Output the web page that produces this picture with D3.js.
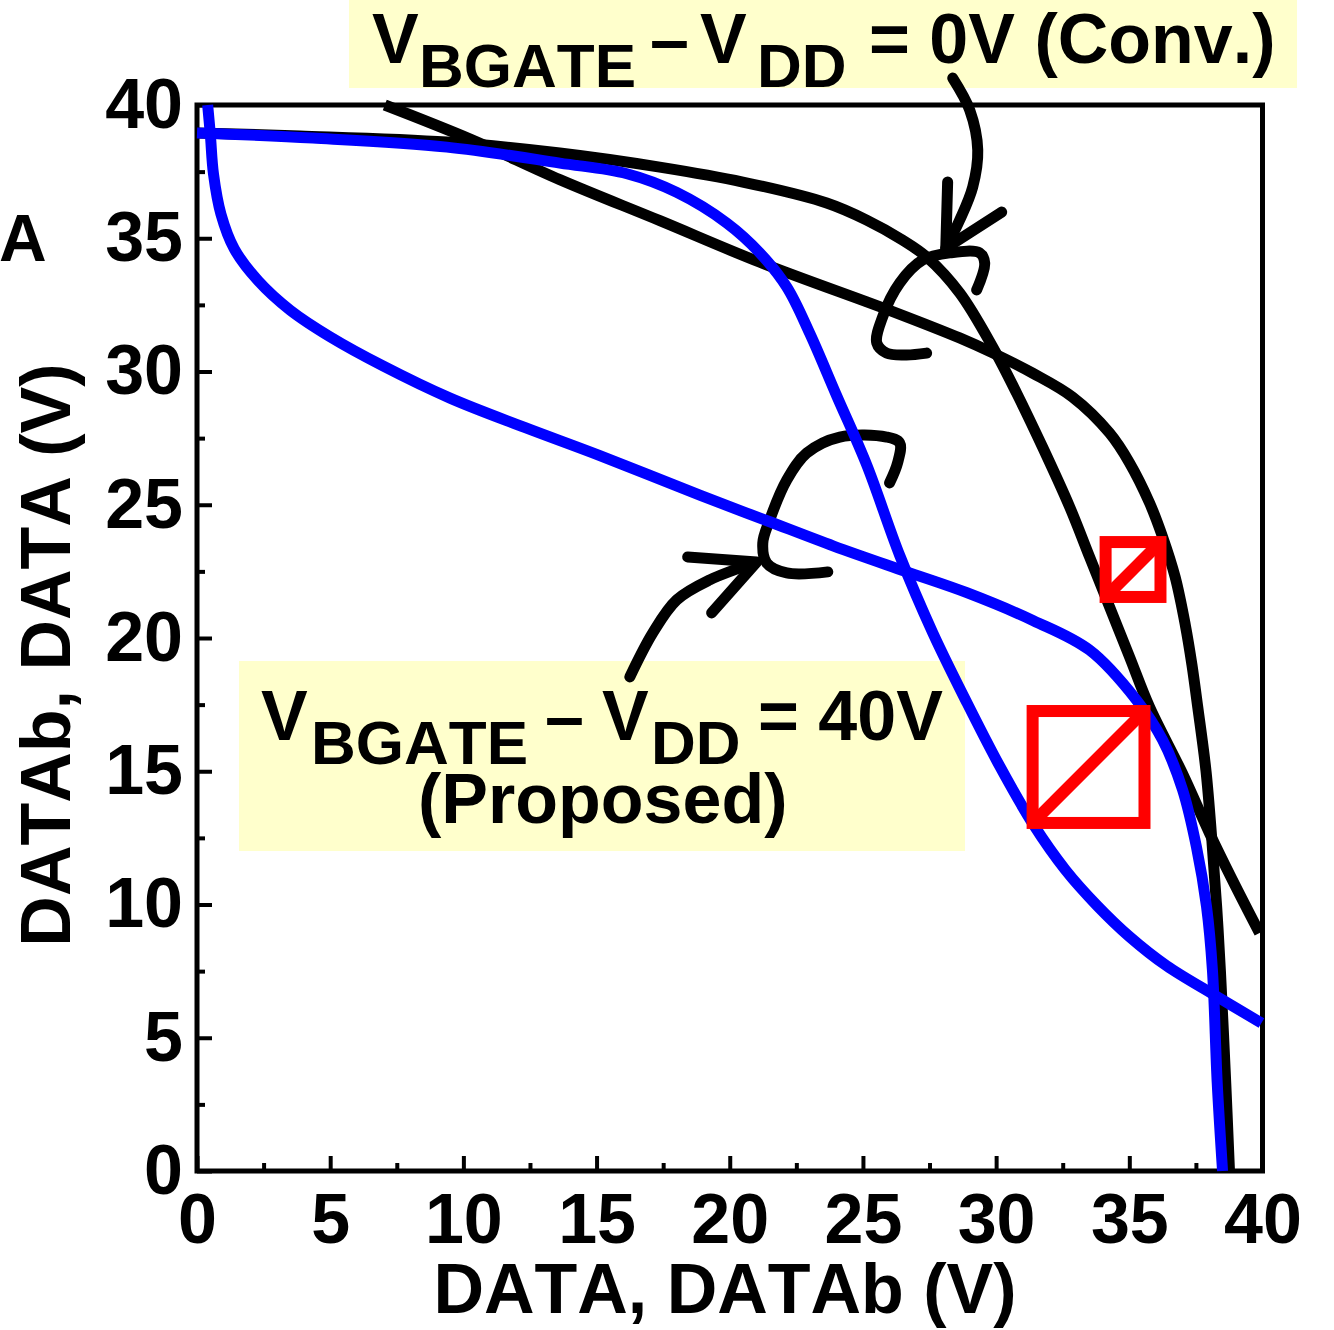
<!DOCTYPE html>
<html><head><meta charset="utf-8">
<script src="https://cdn.jsdelivr.net/npm/d3@7"></script>
<style>
html,body{margin:0;padding:0;background:#fff;overflow:hidden;}
svg{display:block;}
text{font-family:"Liberation Sans",Arial,Helvetica,sans-serif;font-weight:bold;fill:#000;font-kerning:none;}
</style></head><body>
<svg id="chart" width="1334" height="1330"></svg>
<script>
// ---------- data ----------
const xTickValues = [0, 5, 10, 15, 20, 25, 30, 35, 40];
const yTickValues = [0, 5, 10, 15, 20, 25, 30, 35, 40];
const minorTickValues = [2.5, 7.5, 12.5, 17.5, 22.5, 27.5, 32.5, 37.5];
const xTitle = "DATA, DATAb (V)";
const yTitle = "DATAb, DATA (V)";
const panelLabel = "A";

// Conventional cell, VBGATE - VDD = 0V (black butterfly)
const convCurveA = [[7.05,40.0],[10.3,38.7],[13.62,37.2],[17.4,35.65],[21.13,34.1],[26.12,32.25],[28.63,31.26],[29.87,30.7],[31.37,29.94],[32.87,29.04],[34.26,27.69],[35.01,26.57],[35.76,25.07],[36.25,23.79],[36.72,22.29],[37.1,20.5],[37.35,19.0],[37.57,17.4],[37.88,15.0],[38.1,12.4],[38.28,9.9],[38.42,7.5],[38.62,3.3],[38.76,0.0]];
const convCurveB = [[0,38.95],[3.86,38.84],[9.38,38.61],[13.62,38.2],[17.37,37.67],[20.49,37.11],[23.64,36.32],[25.14,35.68],[26.49,34.93],[27.39,34.3],[28.63,32.95],[29.87,30.92],[30.77,29.19],[31.74,27.17],[32.76,24.92],[33.51,23.04],[34.26,21.16],[35.01,19.29],[35.76,17.41],[36.99,14.93],[38.01,12.68],[38.87,10.92],[39.89,8.93]];

// Proposed cell, VBGATE - VDD = 40V (blue butterfly)
const propCurveA = [[0,38.95],[4.35,38.76],[9.38,38.42],[13.62,37.82],[16.14,37.42],[18.01,36.72],[19.89,35.57],[21.13,34.45],[22.14,33.17],[23.0,31.44],[24.01,29.1],[25.14,26.5],[26.38,23.1],[27.62,20.2],[28.89,17.6],[30.13,15.2],[31.4,13.0],[32.6,11.3],[33.8,9.95],[35.0,8.8],[36.4,7.7],[38.2,6.6],[39.96,5.55]];
const propCurveB = [[0.4,40.0],[0.5,38.9],[0.62,37.4],[0.9,35.9],[1.4,34.6],[2.3,33.4],[3.5,32.3],[5.0,31.3],[7.0,30.2],[9.5,29.0],[12.3,27.9],[15.1,26.85],[18.9,25.35],[21.4,24.4],[23.9,23.45],[26.6,22.5],[28.9,21.7],[31.4,20.65],[33.5,19.55],[35.27,17.67],[36.25,16.17],[37.0,14.3],[37.52,12.16],[37.9,9.91],[38.12,7.54],[38.3,3.3],[38.5,0.0]];

// Static noise margin squares: [x0, y0, side] in volts
const snmConv = [34.11, 21.54, 2.06];
const snmProp = [31.37, 13.06, 4.2];

// Annotation arrows (volts)
const convArrowShaft = [[28.37,41.01],[29.01,39.81],[29.31,38.31],[29.12,36.92],[28.63,35.68],[28.11,34.63]];
const convArrowHead = [[28.18,37.11],[28.11,34.63],[30.21,35.98]];
const convArrowLoop = [[29.27,33.06],[29.57,34.07],[29.38,34.45],[28.26,34.45],[27.24,34.18],[26.38,33.32],[25.74,32.05],[25.52,31.07],[25.89,30.69],[26.64,30.62],[27.39,30.69]];
const propArrowShaft = [[16.25,18.54],[17.11,20.19],[18.01,21.43],[19.25,22.18],[20.9,22.81]];
const propArrowHead = [[18.42,23.04],[21.01,22.85],[19.32,20.94]];
const propArrowLoop = [[23.68,22.48],[22.14,22.44],[21.39,22.81],[21.24,23.56],[21.5,24.43],[22.14,25.93],[22.89,26.94],[24.13,27.54],[25.89,27.54],[26.38,27.32],[26.3,26.57],[26.0,25.82]];

// Annotation texts
const convLabel = [{t:"V",x:372,y:63,fs:70},{t:"BGATE",x:419,y:87,fs:62},{t:"\u2013",x:650,y:63,fs:70},{t:"V",x:700,y:63,fs:70},{t:"DD",x:757,y:87,fs:62},{t:"= 0V (Conv.)",x:869,y:63,fs:70}];
const propLabel = [{t:"V",x:261,y:740,fs:70},{t:"BGATE",x:311,y:764,fs:62},{t:"\u2013",x:545,y:740,fs:70},{t:"V",x:602,y:740,fs:70},{t:"DD",x:651,y:764,fs:62},{t:"= 40V",x:758,y:740,fs:70},{t:"(Proposed)",x:418,y:823,fs:70}];

// ---------- drawing ----------
const svg = d3.select("#chart");
const W = 1334, H = 1330;
const mLeft = 197, mRight = 1262.5, mTop = 105, mBottom = 1171;
const x = d3.scaleLinear().domain([0, 40]).range([mLeft, mRight]);
const y = d3.scaleLinear().domain([0, 40]).range([mBottom, mTop]);

svg.append("rect").attr("width", W).attr("height", H).attr("fill", "#fff");

// yellow label boxes
svg.append("rect").attr("x", 349).attr("y", -5).attr("width", 948).attr("height", 93).attr("fill", "#FFFFCC");
svg.append("rect").attr("x", 239).attr("y", 661).attr("width", 726).attr("height", 190).attr("fill", "#FFFFCC");

// axes
const fontFam = '"Liberation Sans",Arial,Helvetica,sans-serif';
function styleAxis(g) {
  g.select(".domain").remove();
  g.attr("font-family", fontFam).attr("font-size", 70).attr("font-weight", "bold");
  g.selectAll(".tick line").attr("stroke", "#000").attr("stroke-width", 4);
  g.selectAll(".tick text").attr("fill", "#000");
}
const gLeft = svg.append("g").attr("transform", `translate(${mLeft},0)`)
  .call(d3.axisLeft(y).tickValues(yTickValues).tickSize(-15).tickPadding(14).tickFormat(d3.format("d")));
styleAxis(gLeft);
const gLeftMinor = svg.append("g").attr("transform", `translate(${mLeft},0)`)
  .call(d3.axisLeft(y).tickValues(minorTickValues).tickSize(-8).tickFormat(""));
styleAxis(gLeftMinor);
const gBot = svg.append("g").attr("transform", `translate(0,${mBottom})`)
  .call(d3.axisBottom(x).tickValues(xTickValues).tickSize(-15).tickPadding(22).tickFormat(d3.format("d")));
styleAxis(gBot);
const gBotMinor = svg.append("g").attr("transform", `translate(0,${mBottom})`)
  .call(d3.axisBottom(x).tickValues(minorTickValues).tickSize(-8).tickFormat(""));
styleAxis(gBotMinor);

// frame
svg.append("rect").attr("x", mLeft).attr("y", mTop).attr("width", mRight - mLeft).attr("height", mBottom - mTop)
  .attr("fill", "none").attr("stroke", "#000").attr("stroke-width", 5);

// curves
const line = d3.line().x(d => x(d[0])).y(d => y(d[1])).curve(d3.curveCatmullRom.alpha(0.5));
const poly = d3.line().x(d => x(d[0])).y(d => y(d[1]));

[convCurveA, convCurveB].forEach(c => {
  svg.append("path").attr("d", line(c)).attr("fill", "none").attr("stroke", "#000")
    .attr("stroke-width", 11).attr("stroke-linejoin", "round");
});

// arrows
const arrows = svg.append("g").attr("fill", "none").attr("stroke", "#000").attr("stroke-width", 11)
  .attr("stroke-linecap", "round").attr("stroke-linejoin", "round");
[convArrowShaft, convArrowLoop, propArrowShaft, propArrowLoop].forEach(a => arrows.append("path").attr("d", line(a)));
[convArrowHead, propArrowHead].forEach(a => arrows.append("path").attr("d", poly(a)));

[propCurveA, propCurveB].forEach(c => {
  svg.append("path").attr("d", line(c)).attr("fill", "none").attr("stroke", "#0000FF")
    .attr("stroke-width", 11).attr("stroke-linejoin", "round");
});

// SNM squares
[snmConv, snmProp].forEach(s => {
  const [x0, y0, side] = s;
  const g = svg.append("g").attr("fill", "none").attr("stroke", "#FF0000").attr("stroke-width", 12);
  g.append("rect").attr("x", x(x0)).attr("y", y(y0 + side))
    .attr("width", x(x0 + side) - x(x0)).attr("height", y(y0) - y(y0 + side));
  g.append("line").attr("x1", x(x0)).attr("y1", y(y0)).attr("x2", x(x0 + side)).attr("y2", y(y0 + side));
});

// labels (one text element per annotation, pieces as tspans)
function addLabel(parts) {
  const t = svg.append("text");
  parts.forEach(p => t.append("tspan").attr("x", p.x).attr("y", p.y).attr("font-size", p.fs).text(p.t));
}
addLabel(convLabel);
addLabel(propLabel);

// axis titles
svg.append("text").attr("x", 725).attr("y", 1313).attr("font-size", 70).attr("text-anchor", "middle").text(xTitle);
svg.append("text").attr("transform", "translate(70,655) rotate(-90)").attr("font-size", 70)
  .attr("text-anchor", "middle").text(yTitle);
svg.append("text").attr("x", -1).attr("y", 261).attr("font-size", 66).text(panelLabel);
</script>
</body></html>
